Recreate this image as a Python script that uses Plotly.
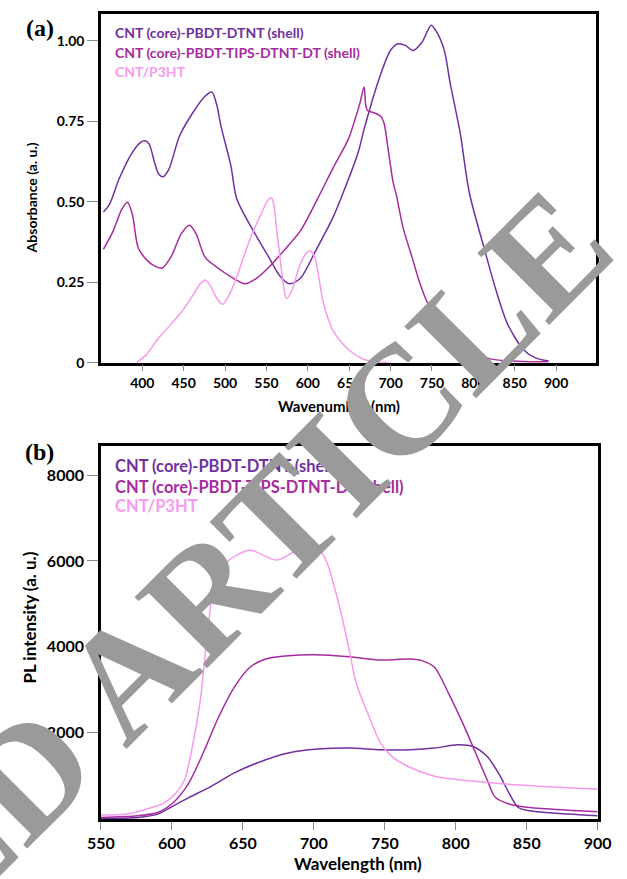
import plotly.graph_objects as go

# ---------------- Panel (a): absorbance ----------------
a_dtnt_x = [353, 360, 372, 388, 398, 403, 408, 415, 420, 425, 432, 445, 461, 475, 484, 490, 495, 507, 514,
            534, 553, 566, 578, 591, 610, 630, 640, 661, 668, 687, 700, 709, 718, 727, 738, 749, 755, 765,
            772, 784, 795, 814, 828, 841, 860, 875, 891]
a_dtnt_y = [0.468, 0.49, 0.571, 0.653, 0.684, 0.689, 0.68, 0.62, 0.585, 0.577, 0.60, 0.704, 0.776, 0.825,
            0.84, 0.80, 0.735, 0.612, 0.51, 0.41, 0.327, 0.27, 0.245, 0.262, 0.35, 0.449, 0.51, 0.654, 0.725,
            0.888, 0.97, 0.99, 0.985, 0.969, 0.995, 1.048, 1.03, 0.969, 0.868, 0.715, 0.53, 0.347, 0.22,
            0.122, 0.042, 0.015, 0.005]

a_tips_x = [353, 365, 375, 382, 388, 395, 405, 415, 424, 435, 447, 457, 465, 476, 495, 510, 524, 538, 553,
            570, 591, 612, 630, 649, 657, 663, 668, 670, 672, 680, 688, 692, 697, 703, 707, 715, 726, 735,
            745, 768, 791, 822, 860, 891]
a_tips_y = [0.352, 0.41, 0.475, 0.498, 0.46, 0.357, 0.32, 0.30, 0.294, 0.33, 0.40, 0.427, 0.40, 0.327,
            0.287, 0.262, 0.245, 0.262, 0.296, 0.345, 0.409, 0.51, 0.602, 0.694, 0.755, 0.806, 0.857, 0.80,
            0.783, 0.776, 0.765, 0.745, 0.663, 0.561, 0.52, 0.42, 0.327, 0.25, 0.184, 0.092, 0.042, 0.011,
            0.004, 0.003]

a_p3ht_x = [393, 405, 418, 433, 449, 460, 470, 476, 482, 490, 497, 505, 514, 524, 534, 545, 552, 556, 559,
            562, 565, 570, 574, 580, 590, 598, 603, 608, 613, 618, 624, 630, 640, 649, 668, 685, 700]
a_p3ht_y = [0.0, 0.025, 0.071, 0.115, 0.163, 0.205, 0.245, 0.257, 0.24, 0.20, 0.181, 0.21, 0.265, 0.34,
            0.408, 0.47, 0.505, 0.512, 0.49, 0.42, 0.357, 0.25, 0.199, 0.22, 0.30, 0.34, 0.347, 0.33, 0.27,
            0.194, 0.14, 0.102, 0.065, 0.041, 0.01, 0.003, 0.0]

# ---------------- Panel (b): PL ----------------
b_dtnt_x = [550, 576, 590, 601, 612, 628, 644, 660, 682, 703, 725, 747, 768, 785, 801, 812, 822, 830, 838,
            844, 852, 879, 900]
b_dtnt_y = [0, 23, 100, 292, 485, 754, 1061, 1292, 1523, 1615, 1638, 1600, 1600, 1638, 1715, 1677, 1446,
            1061, 561, 254, 177, 100, 62]

b_tips_x = [550, 576, 590, 601, 612, 622, 633, 644, 655, 666, 682, 701, 725, 747, 768, 776, 785, 795, 806,
            814, 822, 828, 838, 852, 879, 900]
b_tips_y = [23, 62, 138, 369, 830, 1523, 2369, 3061, 3522, 3714, 3791, 3814, 3768, 3691, 3714, 3676, 3522,
            2907, 2138, 1523, 907, 485, 331, 254, 192, 154]

b_p3ht_x = [550, 568, 582, 595, 603, 609, 614, 620, 625, 630, 639, 655, 674, 693, 703, 709, 714, 720, 725,
            730, 739, 747, 755, 766, 785, 812, 839, 866, 900]
b_p3ht_y = [77, 100, 215, 370, 600, 907, 1600, 2750, 4290, 5445, 5983, 6250, 6020, 6330, 6290, 5983, 5445,
            4676, 3907, 3138, 2369, 1753, 1446, 1215, 984, 869, 792, 738, 677]

series_names = ["CNT (core)-PBDT-DTNT (shell)", "CNT (core)-PBDT-TIPS-DTNT-DT (shell)", "CNT/P3HT"]
series_colors = ["#7030A0", "#A62C9E", "#F79AEF"]

a_xticks = [400, 450, 500, 550, 600, 650, 700, 750, 800, 850, 900]
a_yticks = [0, 0.25, 0.5, 0.75, 1.0]
a_yticktext = ["0", "0.25", "0.50", "0.75", "1.00"]
b_xticks = [550, 600, 650, 700, 750, 800, 850, 900]
b_yticks = [2000, 4000, 6000, 8000]

W, H = 627, 879
def px(x):
    return x / W
def py(y):
    return 1 - y / H

fig = go.Figure()
a_data = [(a_dtnt_x, a_dtnt_y), (a_tips_x, a_tips_y), (a_p3ht_x, a_p3ht_y)]
b_data = [(b_dtnt_x, b_dtnt_y), (b_tips_x, b_tips_y), (b_p3ht_x, b_p3ht_y)]
for (x, y), name, c in zip(a_data, series_names, series_colors):
    fig.add_trace(go.Scatter(x=x, y=y, mode="lines", name=name, xaxis="x", yaxis="y",
                             line=dict(color=c, width=1.5, shape="spline", smoothing=0.8),
                             showlegend=False))
for (x, y), name, c in zip(b_data, series_names, series_colors):
    fig.add_trace(go.Scatter(x=x, y=y, mode="lines", name=name, xaxis="x2", yaxis="y2",
                             line=dict(color=c, width=1.5, shape="spline", smoothing=0.8),
                             showlegend=False))

TF = "Lato"
axis_common = dict(showline=True, linecolor="black", linewidth=2.5, mirror=True, ticks="outside",
                   tickcolor="#8a8a8a", tickwidth=1.3, showgrid=False, zeroline=False)

fig.update_layout(
    width=W, height=H, margin=dict(l=0, r=0, t=0, b=0),
    paper_bgcolor="white", plot_bgcolor="white", showlegend=False,
    xaxis=dict(domain=[px(91), px(609)], anchor="y", range=[350, 948], tickvals=a_xticks, ticklen=6,
               tickfont=dict(family=TF, size=14, color="black", weight="bold"), **axis_common),
    yaxis=dict(domain=[py(366), py(14)], anchor="x", range=[0, 1.083], tickvals=a_yticks,
               ticktext=a_yticktext, ticklen=11,
               tickfont=dict(family=TF, size=14, color="black", weight="bold"), **axis_common),
    xaxis2=dict(domain=[px(91), px(611)], anchor="y2", range=[550, 900], tickvals=b_xticks, ticklen=8,
                tickfont=dict(family=TF, size=16, color="black", weight="bold"), **axis_common),
    yaxis2=dict(domain=[py(827), py(450)], anchor="x2", range=[-25, 8680], tickvals=b_yticks, ticklen=11,
                tickfont=dict(family=TF, size=16, color="black", weight="bold"), **axis_common),
)

ann = []
# panel labels
ann.append(dict(text="(a)", x=px(27), y=py(28), font=dict(family="Liberation Serif", size=24, color="black",
                                                          weight="bold")))
ann.append(dict(text="(b)", x=px(27), y=py(456), font=dict(family="Liberation Serif", size=24, color="black",
                                                           weight="bold")))
# axis titles
ann.append(dict(text="Absorbance (a. u.)", x=px(18), y=py(200), textangle=-90,
                font=dict(family=TF, size=14, color="black", weight="bold")))
ann.append(dict(text="Wavenumber (nm)", x=px(340), y=py(410),
                font=dict(family=TF, size=15, color="black", weight="bold")))
ann.append(dict(text="PL intensity (a. u.)", x=px(16), y=py(623), textangle=-90,
                font=dict(family=TF, size=17, color="black", weight="bold")))
ann.append(dict(text="Wavelength (nm)", x=px(360), y=py(871),
                font=dict(family=TF, size=17, color="black", weight="bold")))
# legends (coloured text)
for ys, size in (([33, 53, 72], 14), ([470, 491, 511], 16.5)):
    for name, c, yy in zip(series_names, series_colors, ys):
        ann.append(dict(text=name, x=px(104), y=py(yy), xanchor="left",
                        font=dict(family=TF, size=size, color=c, weight="bold")))
# watermark
ann.append(dict(text="RETRACTED ARTICLE", x=px(-33), y=py(828), textangle=-45.1,
                font=dict(family="Liberation Serif", size=155, color="#9a9a9a", weight="bold")))

for a in ann:
    a.setdefault("xanchor", "center")
    a.update(xref="paper", yref="paper", showarrow=False, yanchor="middle")
fig.update_layout(annotations=ann)

fig.write_html("out.html")
